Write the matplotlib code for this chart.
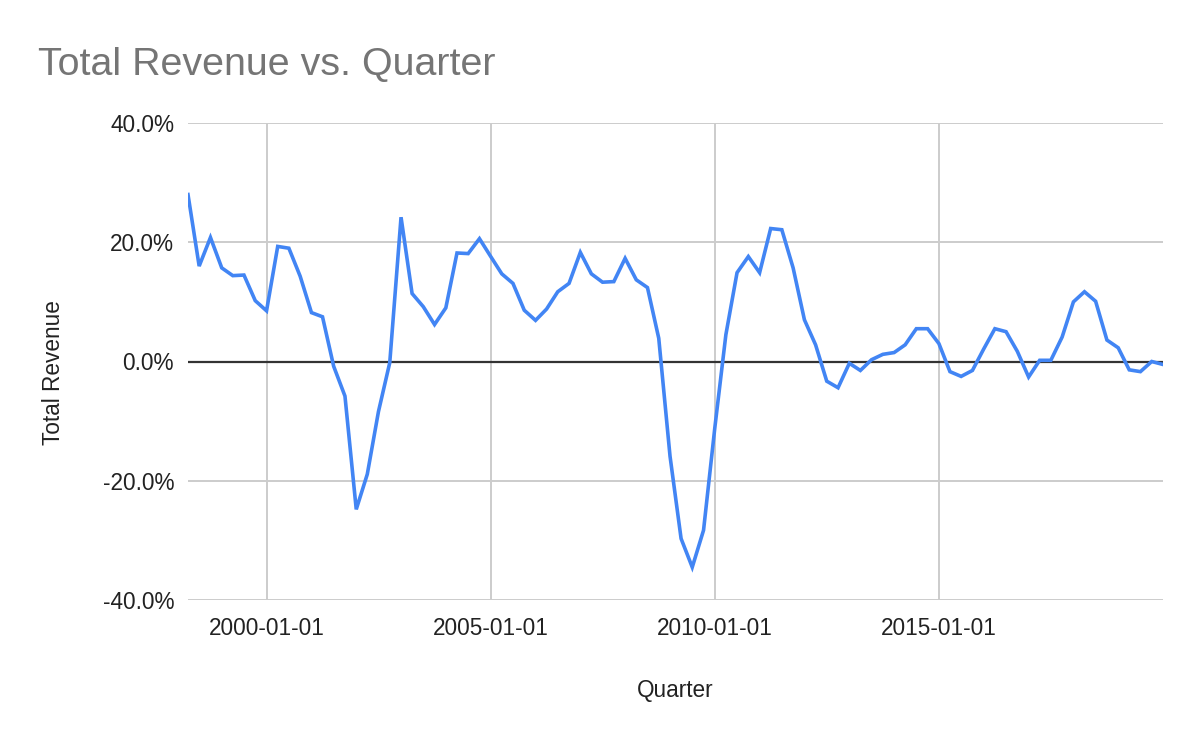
import matplotlib
matplotlib.use("Agg")
import matplotlib.pyplot as plt
import matplotlib.dates as mdates
import pandas as pd

plt.rcParams['font.family'] = ['Liberation Sans', 'DejaVu Sans']

# Data
start_quarter = "1998-04-01"
revenue_pct = [
    28.0, 16.0, 20.8, 15.7, 14.4, 14.5, 10.2, 8.5,
    19.3, 19.0, 14.3, 8.2, 7.5, -0.8, -5.8, -24.8,
    -18.9, -8.4, -0.2, 24.2, 11.4, 9.2, 6.2, 9.0,
    18.2, 18.1, 20.6, 17.6, 14.7, 13.1, 8.6, 6.9,
    8.8, 11.7, 13.1, 18.3, 14.7, 13.3, 13.4, 17.3,
    13.7, 12.4, 3.9, -15.9, -29.7, -34.5, -28.3, -11.1,
    4.5, 14.9, 17.6, 14.9, 22.3, 22.1, 15.7, 7.0,
    2.8, -3.3, -4.4, -0.3, -1.5, 0.3, 1.2, 1.5,
    2.8, 5.5, 5.5, 3.0, -1.7, -2.5, -1.5, 2.1,
    5.5, 5.0, 1.7, -2.6, 0.2, 0.2, 4.1, 10.0,
    11.7, 10.1, 3.6, 2.3, -1.4, -1.7, 0.0, -0.5,
]
quarters = pd.date_range(start_quarter, periods=len(revenue_pct), freq="QS")
x_ticks = ["2000-01-01", "2005-01-01", "2010-01-01", "2015-01-01"]
y_ticks = [-40, -20, 0, 20, 40]
y_tick_labels = ["-40.0%", "-20.0%", "0.0%", "20.0%", "40.0%"]

W, H = 1200, 742
fig = plt.figure(figsize=(W / 100, H / 100), dpi=100)
ax = fig.add_axes([188 / W, 1 - 600 / H, (1163 - 188) / W, (600 - 123) / H])

tick_dates = pd.to_datetime(x_ticks)
for d in tick_dates:
    ax.axvline(d, color="#cccccc", lw=1.4, zorder=1)
for v in y_ticks:
    if v == 0:
        ax.axhline(v, color="#333333", lw=1.6, zorder=2)
    else:
        ax.axhline(v, color="#cccccc", lw=1.4, zorder=1)

ax.plot(quarters, revenue_pct, color="#4285F4", lw=2.6, zorder=3,
        solid_joinstyle="miter")

ax.set_xlim(pd.Timestamp("1998-04-01"), pd.Timestamp("2020-01-01"))
ax.set_ylim(-40, 40)
ax.set_xticks(tick_dates)
ax.set_xticklabels(x_ticks)
ax.set_yticks(y_ticks)
ax.set_yticklabels(y_tick_labels)
ax.tick_params(axis="both", length=0, labelsize=16.3, colors="#222222")
ax.tick_params(axis="y", pad=10)
ax.tick_params(axis="x", pad=12)
for s in ax.spines.values():
    s.set_visible(False)

fig.text(38 / W, 1 - 75 / H, "Total Revenue vs. Quarter", fontsize=28.4,
         color="#757575", ha="left", va="baseline")
fig.text(53 / W, 1 - 373 / H, "Total Revenue", fontsize=16.3, rotation=90,
         color="#222222", ha="center", va="center")
fig.text(675.5 / W, 1 - 690 / H, "Quarter", fontsize=16.3,
         color="#222222", ha="center", va="center")

fig.savefig("out.png", dpi=100)
